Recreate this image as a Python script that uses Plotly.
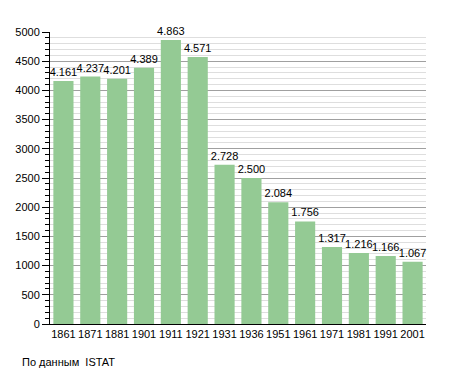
import plotly.graph_objects as go

years = ["1861", "1871", "1881", "1901", "1911", "1921", "1931", "1936", "1951", "1961", "1971", "1981", "1991", "2001"]
population = [4161, 4237, 4201, 4389, 4863, 4571, 2728, 2500, 2084, 1756, 1317, 1216, 1166, 1067]
labels = ["4.161", "4.237", "4.201", "4.389", "4.863", "4.571", "2.728", "2.500", "2.084", "1.756", "1.317", "1.216", "1.166", "1.067"]

# page body has an 8px margin, so figure is offset by 8px
OFF = 8
W, H = 455 - OFF, 373 - OFF
L, R, T, B = 50 - OFF, 29, 32 - OFF, 49

fig = go.Figure()
fig.add_trace(go.Bar(
    x=years, y=population, text=labels, textposition="outside",
    textfont=dict(size=11, color="#000000"),
    constraintext="none",
    marker=dict(color="#94CA94", line=dict(width=0)),
    cliponaxis=False,
))
fig.update_layout(
    width=W, height=H,
    margin=dict(l=L, r=R, t=T, b=B, autoexpand=False),
    paper_bgcolor="white", plot_bgcolor="white",
    bargap=0.25,
    showlegend=False,
    uniformtext=dict(minsize=11, mode="show"),
    font=dict(family="Liberation Sans, Arial, sans-serif", size=11, color="#000000"),
    xaxis=dict(type="category", showline=True, linecolor="#000000", linewidth=1,
               ticks="", showgrid=False, tickfont=dict(size=11)),
    yaxis=dict(range=[0, 5000], dtick=500, showline=True, linecolor="#000000", linewidth=1,
               ticks="outside", ticklen=7, tickcolor="#000000",
               showgrid=True, gridcolor="#A0A0A0", gridwidth=1,
               minor=dict(dtick=100, showgrid=True, gridcolor="#DEDEDE", ticks="outside", ticklen=4, tickcolor="#000000"),
               zeroline=False, tickfont=dict(size=11)),
    annotations=[dict(text="По данным  ISTAT",
                      x=(20 - 50) / (W - L - R), y=(373 - 362 - B) / (H - T - B),
                      xref="paper", yref="paper",
                      showarrow=False, xanchor="left", yanchor="middle", font=dict(size=11))],
)
fig.write_html("out.html")
